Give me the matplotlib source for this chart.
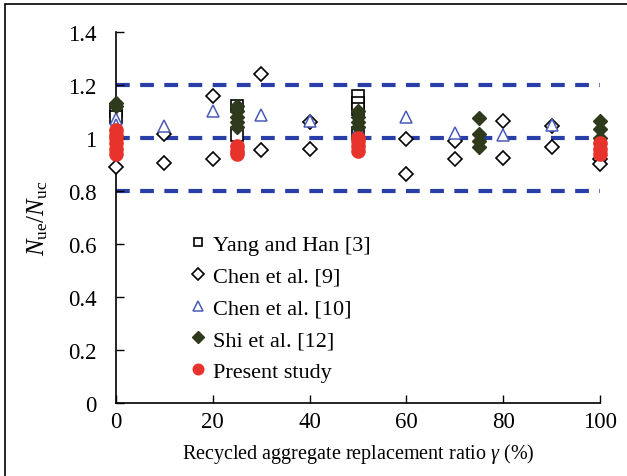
import matplotlib.pyplot as plt
from matplotlib.patches import Rectangle

plt.rcParams["font.family"] = ["Liberation Serif", "DejaVu Serif"]
plt.rcParams["mathtext.fontset"] = "custom"
plt.rcParams["mathtext.it"] = "Liberation Serif:italic"
plt.rcParams["mathtext.rm"] = "Liberation Serif"

# Yang and Han [3]
yang_x = [0, 0, 25, 25, 50, 50, 50, 50]
yang_y = [1.10, 1.08, 1.12, 1.01, 1.16, 1.13, 1.11, 1.02]

# Chen et al. [9]
chen9_x = [0, 10, 10, 20, 20, 30, 30, 40, 40, 60, 60, 70, 70, 80, 80, 90, 90, 100, 100]
chen9_y = [0.89, 1.015, 0.905, 1.16, 0.92, 1.24, 0.955, 1.06, 0.958, 0.995, 0.864,
           0.99, 0.92, 1.065, 0.925, 1.045, 0.965, 0.92, 0.90]

# Chen et al. [10]
chen10_x = [0, 0, 10, 20, 30, 40, 50, 60, 70, 80, 90, 100]
chen10_y = [1.07, 1.05, 1.045, 1.10, 1.085, 1.065, 1.03, 1.08, 1.02, 1.01, 1.05, 1.0]

# Shi et al. [12]
shi_x = [0, 0, 25, 25, 25, 25, 25, 50, 50, 50, 50, 75, 75, 75, 75, 100, 100, 100]
shi_y = [1.13, 1.12, 1.04, 1.06, 1.08, 1.10, 1.12, 1.04, 1.06, 1.08, 1.10,
         1.075, 1.015, 0.99, 0.965, 1.065, 1.035, 1.0]

# Present study
pres_x = [0, 0, 0, 0, 0, 0, 25, 25, 25, 50, 50, 50, 50, 100, 100, 100]
pres_y = [0.94, 0.96, 0.98, 1.0, 1.01, 1.03, 0.94, 0.95, 0.97,
          0.95, 0.97, 0.99, 1.0, 0.94, 0.96, 0.98]

ref_lines = [0.8, 1.0, 1.2]

fig = plt.figure(figsize=(6.27, 4.77), dpi=100)
ax = fig.add_axes([0.185, 0.153, 0.772, 0.778])

# frame around figure (only left/top visible in the original)
fig.add_artist(Rectangle((0.008, -0.05), 1.1, 1.04, transform=fig.transFigure,
                         fill=False, lw=1.2, ec='black'))

for v in ref_lines:
    ax.plot([0, 100], [v, v], color='#2a3ea8', lw=3, ls=(0, (3.3, 2.5)), zorder=1)

ax.plot(yang_x, yang_y, 's', ms=8, mfc='white', mec='black', mew=1.2,
        ls='none', label='Yang and Han [3]', zorder=3)
ax.plot(chen9_x, chen9_y, 'D', ms=7.5, mfc='white', mec='black', mew=1.2,
        ls='none', label='Chen et al. [9]', zorder=3)
ax.plot(chen10_x, chen10_y, '^', ms=9, mfc='white', mec='#4a5bb8', mew=1.1,
        ls='none', label='Chen et al. [10]', zorder=3)
ax.plot(shi_x, shi_y, 'D', ms=7.5, mfc='#2f3a1c', mec='#2f3a1c',
        ls='none', label='Shi et al. [12]', zorder=4)
ax.plot(pres_x, pres_y, 'o', ms=9.5, mfc='#e8322c', mec='#e8322c',
        ls='none', label='Present study', zorder=5)

ax.set_xlim(0, 100)
ax.set_ylim(0, 1.4)
ax.set_xticks([0, 20, 40, 60, 80, 100])
ax.set_yticks([0, 0.2, 0.4, 0.6, 0.8, 1.0, 1.2, 1.4])
ax.set_yticklabels(['0', '0.2', '0.4', '0.6', '0.8', '1', '1.2', '1.4'])
ax.tick_params(direction='in', length=6, width=1, labelsize=16.5, pad=6)
ax.tick_params(axis='y', pad=14)
for s in ['top', 'right']:
    ax.spines[s].set_visible(False)
for s in ['left', 'bottom']:
    ax.spines[s].set_lw(1.2)
for ln in ax.lines:
    ln.set_clip_on(False)

ax.set_xlabel(r'Recycled aggregate replacement ratio $\gamma$ (%)', fontsize=14.5, labelpad=6)
ax.set_ylabel(r'$N_{\rm ue}/N_{\rm uc}$', fontsize=18, labelpad=13)

leg = ax.legend(loc='upper left', bbox_to_anchor=(0.13, 0.478), frameon=False,
                fontsize=16, handletextpad=0.25, handlelength=0.9,
                labelspacing=0.5, borderaxespad=0.0, markerscale=0.8)

fig.savefig('out.png', dpi=100)
